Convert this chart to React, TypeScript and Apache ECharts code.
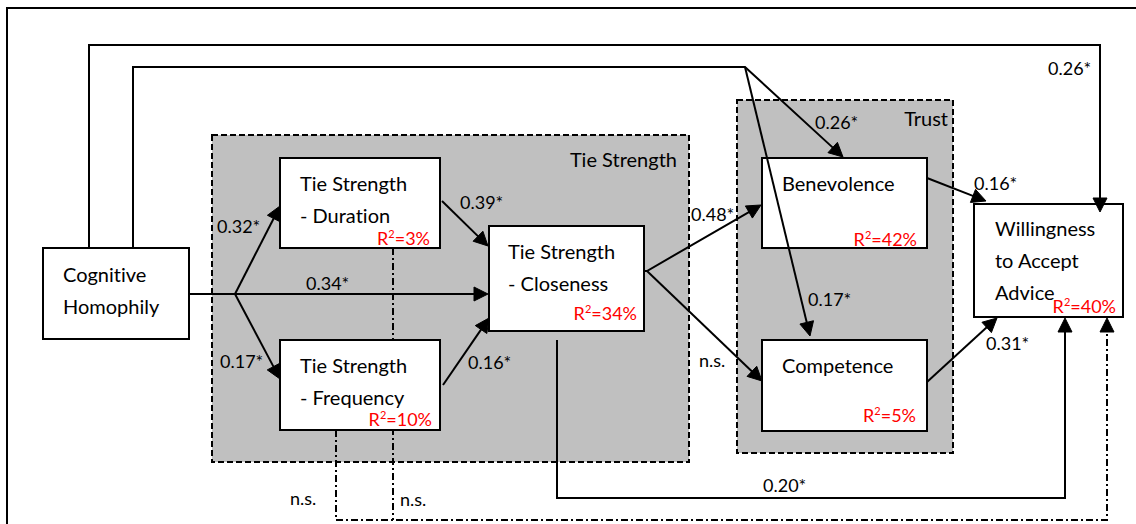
import React, { useEffect, useRef } from 'react';
import * as echarts from 'echarts';

const W = 1136;
const H = 524;
const FONT = 'Lato';

// ---------- data ----------
const nodeNames = [
  'Cognitive Homophily',
  'Tie Strength - Duration',
  'Tie Strength - Frequency',
  'Tie Strength - Closeness',
  'Benevolence',
  'Competence',
  'Willingness to Accept Advice',
];
const nodeLines = [
  ['Cognitive', 'Homophily'],
  ['Tie Strength', '- Duration'],
  ['Tie Strength', '- Frequency'],
  ['Tie Strength', '- Closeness'],
  ['Benevolence'],
  ['Competence'],
  ['Willingness', 'to Accept', 'Advice'],
];
const nodeR2 = ['', '3%', '10%', '34%', '42%', '5%', '40%'];
const groupNames = ['Tie Strength', 'Trust'];
const pathFrom = [0, 0, 0, 0, 0, 0, 1, 2, 3, 3, 4, 5, 3, 1, 2];
const pathTo = [6, 4, 5, 3, 1, 2, 3, 3, 4, 5, 6, 6, 6, 6, 6];
const pathCoef = ['0.26*', '0.26*', '0.17*', '0.34*', '0.32*', '0.17*', '0.39*', '0.16*', '0.48*', 'n.s.', '0.16*', '0.31*', '0.20*', 'n.s.', 'n.s.'];

// ---------- layout ----------
const nodeBox = [
  [43, 248, 189, 339],
  [280, 158, 440, 248],
  [280, 340, 440, 430],
  [489, 226, 644, 331],
  [762, 158, 927, 248],
  [762, 340, 927, 431],
  [974, 204, 1123, 317],
];
const nodeTextX = [63, 300, 300, 508, 782, 782, 995];
const nodeTextY = [[274, 306], [183, 215], [365, 397], [251, 283], [183], [365], [228, 260, 292]];
const r2Pos = [null, [430, 238], [432, 419], [637, 313], [917, 239], [916, 415], [1116, 306]];
const groupBox = [
  [212, 135, 689, 462],
  [737, 100, 953, 453],
];
const groupLabelPos = [[677, 159], [948, 118]];
const pathRoute = [
  [[89, 248], [89, 45], [1100, 45], [1100, 212]],
  [[133, 248], [133, 67], [745, 67], [843, 157]],
  [[745, 67], [810, 336]],
  [[189, 294], [488, 294]],
  [[235, 294], [280, 206]],
  [[235, 294], [280, 379]],
  [[442, 201], [488, 246]],
  [[443, 385], [489, 318]],
  [[644, 271], [647, 271], [761, 205]],
  [[647, 271], [762, 381]],
  [[927, 178], [986, 201]],
  [[927, 382], [997, 318]],
  [[557, 340], [557, 498], [1065, 498], [1065, 318]],
  [[393, 248], [393, 520]],
  [[336, 430], [336, 520], [1107, 520], [1107, 318]],
];
const pathArrow = [true, true, true, true, true, true, true, true, true, true, true, true, true, false, true];
const pathDashed = [false, false, false, false, false, false, false, false, false, false, false, false, false, true, true];
const coefPos = [
  [1048, 68], [815, 122], [808, 299], [306, 283], [217, 226], [220, 361], [460, 202],
  [468, 362], [691, 214], [699, 360], [974, 183], [986, 343], [763, 485], [400, 499], [290, 498],
];

const BOX_FONT = 20;
const COEF_FONT = 18;

function arrowHead(p0: number[], p1: number[], L = 14, hw = 7) {
  const dx = p1[0] - p0[0];
  const dy = p1[1] - p0[1];
  const len = Math.sqrt(dx * dx + dy * dy) || 1;
  const ux = dx / len;
  const uy = dy / len;
  const bx = p1[0] - ux * L;
  const by = p1[1] - uy * L;
  return {
    base: [bx + ux * 2, by + uy * 2],
    points: [
      [p1[0], p1[1]],
      [bx - uy * hw, by + ux * hw],
      [bx + uy * hw, by - ux * hw],
    ],
  };
}

function edgeRender(dashed: boolean) {
  return (params: any, api: any) => {
    const idxs = pathDashed.map((d, i) => (d === dashed ? i : -1)).filter((i) => i >= 0);
    const i = idxs[params.dataIndex];
    const pts = pathRoute[i].map((p) => api.coord(p));
    const children: any[] = [];
    let linePts = pts.slice();
    if (pathArrow[i]) {
      const a = arrowHead(pts[pts.length - 2], pts[pts.length - 1]);
      linePts = pts.slice(0, pts.length - 1).concat([a.base]);
      children.push({
        type: 'polygon',
        shape: { points: a.points },
        style: { fill: '#000', stroke: '#000', lineWidth: 1 },
        z2: 2,
      });
    }
    children.push({
      type: 'polyline',
      shape: { points: linePts },
      style: {
        fill: 'none',
        stroke: '#000',
        lineWidth: 2,
        lineDash: dashed ? [7, 3, 2, 3] : null,
      },
    });
    return { type: 'group', children };
  };
}

const option: any = {
  animation: false,
  backgroundColor: '#fff',
  grid: { left: 0, right: 0, top: 0, bottom: 0 },
  xAxis: { type: 'value', min: 0, max: W, show: false },
  yAxis: { type: 'value', min: 0, max: H, inverse: true, show: false },
  series: [
    {
      type: 'custom',
      name: 'groups',
      z: 1,
      clip: false,
      silent: true,
      data: groupNames.map((_, i) => [i]),
      renderItem: (params: any, api: any) => {
        const i = params.dataIndex;
        const b = groupBox[i];
        const p0 = api.coord([b[0], b[1]]);
        const p1 = api.coord([b[2], b[3]]);
        const lp = api.coord(groupLabelPos[i]);
        const children: any[] = [
          {
            type: 'rect',
            shape: { x: p0[0], y: p0[1], width: p1[0] - p0[0], height: p1[1] - p0[1] },
            style: { fill: '#c0c0c0', stroke: '#000', lineWidth: 2, lineDash: [6, 3] },
          },
          {
            type: 'text',
            x: lp[0],
            y: lp[1],
            style: {
              text: groupNames[i],
              fill: '#000',
              font: `${BOX_FONT}px ${FONT}`,
              align: 'right',
              verticalAlign: 'middle',
            },
          },
        ];
        if (i === 0) {
          const f0 = api.coord([7, 8]);
          const f1 = api.coord([1150, 540]);
          children.unshift({
            type: 'rect',
            shape: { x: f0[0], y: f0[1], width: f1[0] - f0[0], height: f1[1] - f0[1] },
            style: { fill: 'none', stroke: '#000', lineWidth: 2 },
          });
        }
        return { type: 'group', children };
      },
    },
    {
      type: 'custom',
      name: 'non-significant paths',
      z: 2,
      clip: false,
      silent: true,
      data: pathDashed.filter((d) => d).map((_, i) => [i]),
      renderItem: edgeRender(true),
    },
    {
      type: 'custom',
      name: 'constructs',
      z: 3,
      clip: false,
      silent: true,
      data: nodeNames.map((_, i) => [i]),
      renderItem: (params: any, api: any) => {
        const i = params.dataIndex;
        const b = nodeBox[i];
        const p0 = api.coord([b[0], b[1]]);
        const p1 = api.coord([b[2], b[3]]);
        const children: any[] = [
          {
            type: 'rect',
            shape: { x: p0[0], y: p0[1], width: p1[0] - p0[0], height: p1[1] - p0[1] },
            style: { fill: '#fff', stroke: '#000', lineWidth: 2 },
          },
        ];
        nodeLines[i].forEach((t, k) => {
          const p = api.coord([nodeTextX[i], nodeTextY[i][k]]);
          children.push({
            type: 'text',
            x: p[0],
            y: p[1],
            style: { text: t, fill: '#000', font: `${BOX_FONT}px ${FONT}`, align: 'left', verticalAlign: 'middle' },
          });
        });
        const rp = r2Pos[i];
        if (nodeR2[i] && rp) {
          const p = api.coord(rp);
          children.push({
            type: 'text',
            x: p[0],
            y: p[1],
            z2: 5,
            style: {
              text: `{a|R}{s|2}{a|=${nodeR2[i]}}`,
              align: 'right',
              verticalAlign: 'middle',
              rich: {
                a: { fill: '#ff0000', fontSize: 18, fontFamily: FONT, lineHeight: 20 },
                s: { fill: '#ff0000', fontSize: 11, fontFamily: FONT, lineHeight: 11, verticalAlign: 'top' },
              },
            },
          });
        }
        return { type: 'group', children };
      },
    },
    {
      type: 'custom',
      name: 'paths',
      z: 4,
      clip: false,
      silent: true,
      data: pathDashed.filter((d) => !d).map((_, i) => [i]),
      renderItem: edgeRender(false),
    },
    {
      type: 'custom',
      name: 'coefficients',
      z: 5,
      clip: false,
      silent: true,
      data: pathCoef.map((_, i) => [i]),
      renderItem: (params: any, api: any) => {
        const i = params.dataIndex;
        const p = api.coord(coefPos[i]);
        return {
          type: 'text',
          x: p[0],
          y: p[1],
          style: {
            text: pathCoef[i],
            fill: '#000',
            font: `${COEF_FONT}px ${FONT}`,
            align: 'left',
            verticalAlign: 'middle',
          },
        };
      },
    },
  ],
};

export default function App() {
  const ref = useRef<HTMLDivElement>(null);
  useEffect(() => {
    if (!ref.current) return;
    const chart = echarts.init(ref.current, null, { renderer: 'svg' });
    chart.setOption(option);
    return () => chart.dispose();
  }, []);
  return (
    <>
      <style>{`svg text, svg tspan { font-variant-ligatures: none !important; font-feature-settings: "liga" 0, "clig" 0 !important; }`}</style>
      <div
        ref={ref}
        style={{ position: 'absolute', left: 0, top: 0, width: W, height: H, background: '#fff' }}
      />
    </>
  );
}
